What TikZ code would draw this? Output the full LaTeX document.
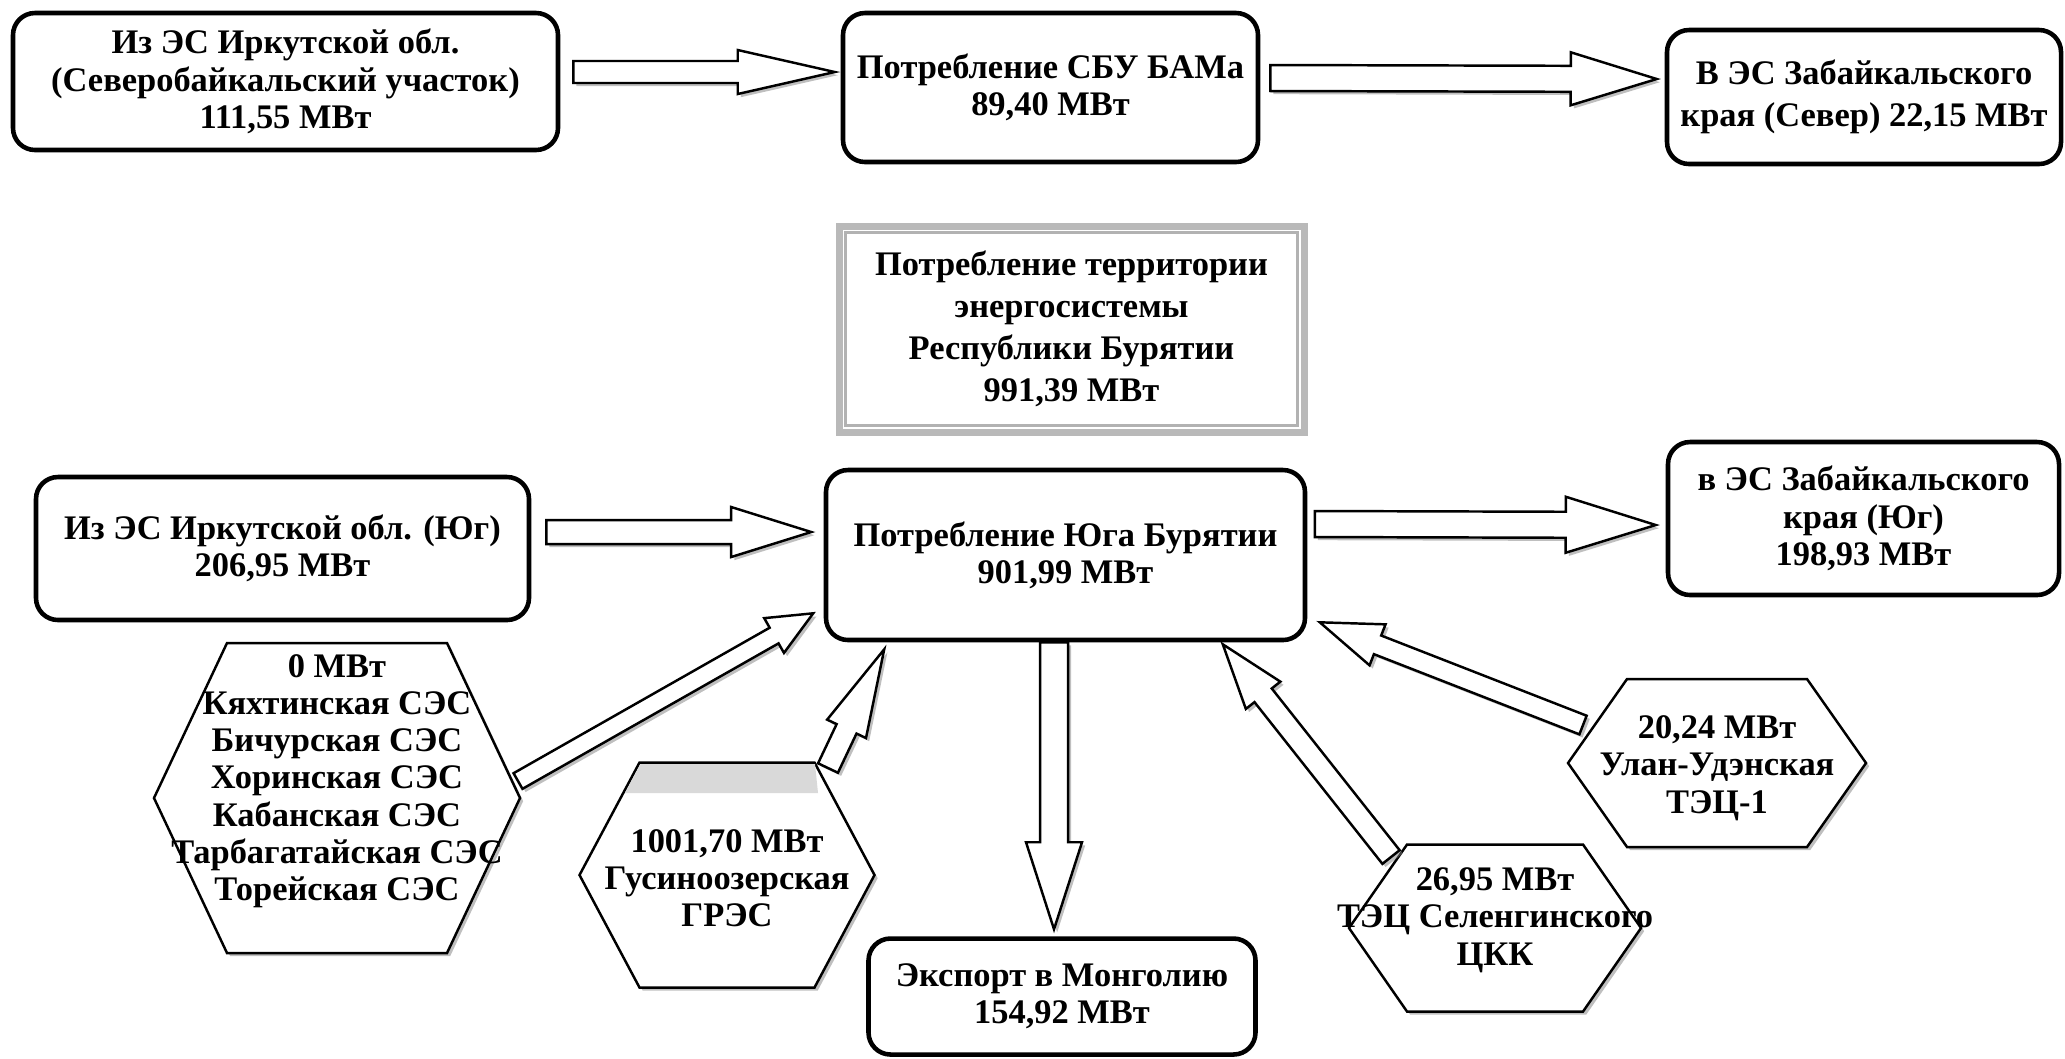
\documentclass[tikz,border=0pt]{standalone}
\usepackage{fontspec}
\setmainfont{Liberation Serif}
\usetikzlibrary{calc, shadows, backgrounds}

% полая стрелка: хвост, остриё, полуширина стержня, полуширина головки, длина головки
\newcommand{\blockarrow}[5]{%
  \coordinate (ba-base) at ($(#2)!#5!(#1)$);
  \draw[blockarr] ($(#1)!#3!90:(#2)$) -- ($(ba-base)!#3!90:(#2)$) -- ($(ba-base)!#4!90:(#2)$) -- (#2)
    -- ($(ba-base)!#4!-90:(#2)$) -- ($(ba-base)!#3!-90:(#2)$) -- ($(#1)!#3!-90:(#2)$) -- cycle;
}
% шестиугольник вокруг узла: узел, сдвиг по y, полуширина, полувысота, скос
\newcommand{\hexframe}[5]{%
  \draw[hexline] ($(#1.center)+(-#3,#2)$) -- ($(#1.center)+({-#3+#5},{#2+#4})$) -- ($(#1.center)+({#3-#5},{#2+#4})$)
    -- ($(#1.center)+(#3,#2)$) -- ($(#1.center)+({#3-#5},{#2-#4})$) -- ($(#1.center)+({-#3+#5},{#2-#4})$) -- cycle;
}

\begin{document}
\begin{tikzpicture}[
    flowbox/.style={rectangle, draw, line width=1.3pt, rounded corners=0.22cm, fill=white, align=center, font=\fontsize{9.8}{10.6}\selectfont\bfseries},
    totalbox/.style={rectangle, draw=gray!55, line width=2pt, align=center, font=\fontsize{9.8}{12}\selectfont\bfseries},
    plant/.style={inner sep=0pt, align=center, font=\fontsize{9.8}{10.6}\selectfont\bfseries},
    hexline/.style={draw, line width=0.7pt, fill=white, drop shadow={shadow xshift=0.9pt, shadow yshift=-0.9pt, fill=gray, opacity=0.5}},
    blockarr/.style={draw, line width=0.7pt, fill=white, line join=miter, drop shadow={shadow xshift=0.9pt, shadow yshift=-0.9pt, fill=gray, opacity=0.5}}
]
\useasboundingbox (0,0) rectangle (20.65,-10.58);

% ---- северный участок ----
\node[flowbox, minimum width=5.45cm, minimum height=1.37cm] (irkN) at (2.855,-0.815) {Из ЭС Иркутской обл.\\(Северобайкальский участок)\\111,55 МВт};
\node[flowbox, minimum width=4.15cm, minimum height=1.49cm] (sbu)  at (10.505,-0.875) {Потребление СБУ БАМа\\89,40 МВт};
\node[flowbox, minimum width=3.94cm, minimum height=1.34cm, font=\fontsize{9.8}{12}\selectfont\bfseries] (zabN) at (18.64,-0.97) {В ЭС Забайкальского\\края (Север) 22,15 МВт};

% ---- итог по энергосистеме ----
\node[totalbox, minimum width=4.65cm, minimum height=2.06cm] (total) at (10.715,-3.29) {Потребление территории\\энергосистемы\\Республики Бурятии\\991,39 МВт};
\draw[gray!60, line width=0.6pt] ([shift={(0.1,-0.1)}]total.north west) rectangle ([shift={(-0.1,0.1)}]total.south east);

% ---- южный участок ----
\node[flowbox, minimum width=4.93cm, minimum height=1.43cm] (irkS)  at (2.825,-5.485) {Из ЭС Иркутской обл. (Юг)\\206,95 МВт};
\node[flowbox, minimum width=4.79cm, minimum height=1.70cm] (south) at (10.655,-5.55) {Потребление Юга Бурятии\\901,99 МВт};
\node[flowbox, minimum width=3.91cm, minimum height=1.53cm] (zabS)  at (18.635,-5.185) {в ЭС Забайкальского\\края (Юг)\\198,93 МВт};
\node[flowbox, minimum width=3.87cm, minimum height=1.16cm] (mong)  at (10.62,-9.965) {Экспорт в Монголию\\154,92 МВт};

% ---- станции ----
\node[plant] (ses)  at (3.37,-7.81)  {0 МВт\\Кяхтинская СЭС\\Бичурская СЭС\\Хоринская СЭС\\Кабанская СЭС\\Тарбагатайская СЭС\\Торейская СЭС};
\node[plant] (gres) at (7.27,-8.78)  {1001,70 МВт\\Гусиноозерская\\ГРЭС};
\node[plant] (tsk)  at (14.95,-9.20) {26,95 МВт\\ТЭЦ Селенгинского\\ЦКК};
\node[plant] (tec1) at (17.17,-7.68) {20,24 МВт\\Улан-Удэнская\\ТЭЦ-1};

\begin{scope}[on background layer]
\hexframe{ses}{-0.17}{1.83}{1.55}{0.73}
\hexframe{gres}{0.03}{1.475}{1.125}{0.60}
\hexframe{tsk}{-0.08}{1.46}{0.835}{0.58}
\hexframe{tec1}{0.05}{1.49}{0.84}{0.59}
\fill[gray!30] ([shift={(-0.865,1.14)}]gres.center) -- ([shift={(0.88,1.14)}]gres.center)
  -- ([shift={(0.91,0.85)}]gres.center) -- ([shift={(-1.02,0.85)}]gres.center) -- cycle;
\end{scope}

% ---- концы стрелок ----
\coordinate (irkN-out)   at ([shift={(0.13,0.095)}]irkN.east);
\coordinate (sbu-in)     at ([shift={(-0.06,0.155)}]sbu.west);
\coordinate (sbu-out)    at ([shift={(0.10,0.095)}]sbu.east);
\coordinate (zabN-in)    at ([shift={(-0.08,0.18)}]zabN.west);
\coordinate (irkS-out)   at ([shift={(0.15,0.165)}]irkS.east);
\coordinate (south-inW)  at ([shift={(-0.125,0.23)}]south.west);
\coordinate (south-outE) at ([shift={(0.075,0.31)}]south.east);
\coordinate (zabS-in)    at ([shift={(-0.10,-0.065)}]zabS.west);
\coordinate (south-outS) at ([shift={(-0.115,0)}]south.south);
\coordinate (mong-in)    at ([shift={(-0.08,0.07)}]mong.north);
\coordinate (ses-out)    at ([shift={(1.81,0)}]ses.center);
\coordinate (south-inSW) at ([shift={(-0.105,0.29)}]south.south west);
\coordinate (gres-out)   at ([shift={(1.01,1.10)}]gres.center);
\coordinate (south-inS)  at ([shift={(0.605,-0.07)}]south.south west);
\coordinate (tsk-out)    at ([shift={(-1.04,0.63)}]tsk.center);
\coordinate (south-inSE) at ([shift={(-0.845,-0.02)}]south.south east);
\coordinate (tec1-out)   at ([shift={(-1.34,0.43)}]tec1.center);
\coordinate (south-inE)  at ([shift={(0.125,0.20)}]south.south east);

% ---- перетоки ----
\blockarrow{irkN-out}{sbu-in}{0.11cm}{0.22cm}{0.97cm}
\blockarrow{sbu-out}{zabN-in}{0.13cm}{0.265cm}{0.86cm}
\blockarrow{irkS-out}{south-inW}{0.12cm}{0.25cm}{0.80cm}
\blockarrow{south-outE}{zabS-in}{0.13cm}{0.28cm}{0.90cm}
\blockarrow{south-outS}{mong-in}{0.14cm}{0.28cm}{0.87cm}

% ---- выдача станций ----
\blockarrow{ses-out}{south-inSW}{0.09cm}{0.20cm}{0.45cm}
\blockarrow{gres-out}{south-inS}{0.11cm}{0.215cm}{0.88cm}
\blockarrow{tsk-out}{south-inSE}{0.11cm}{0.22cm}{0.65cm}
\blockarrow{tec1-out}{south-inE}{0.10cm}{0.22cm}{0.62cm}

\end{tikzpicture}
\end{document}
